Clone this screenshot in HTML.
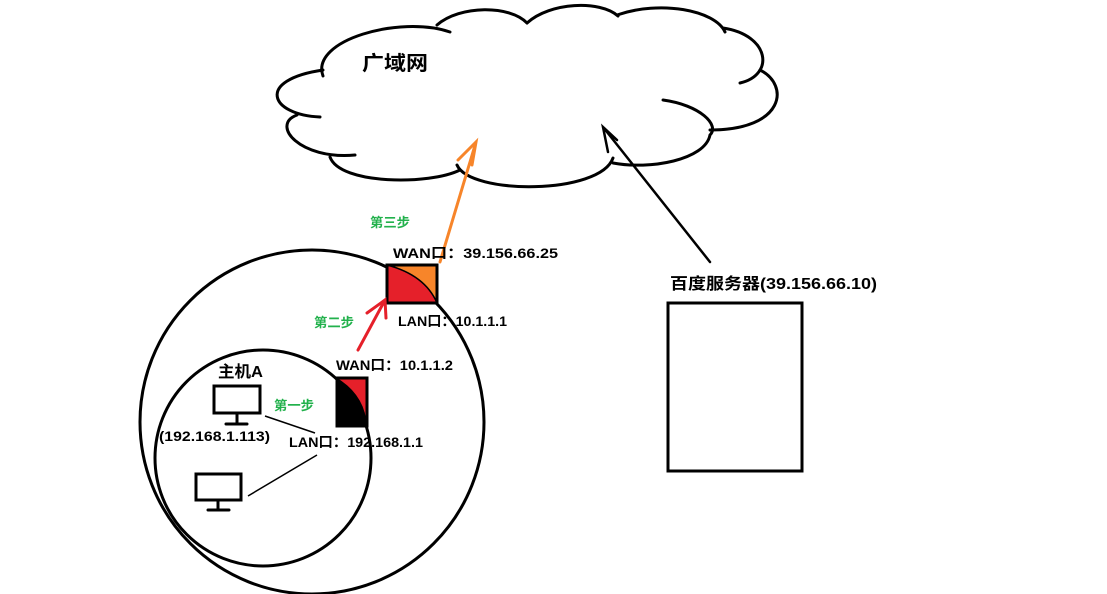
<!DOCTYPE html>
<html><head><meta charset="utf-8"><style>
html,body{margin:0;padding:0;background:#fff;}
svg{display:block;}
text{font-family:"Liberation Sans","Noto Sans CJK SC",sans-serif;font-weight:bold;}
</style></head><body>
<svg width="1107" height="594" viewBox="0 0 1107 594" xmlns="http://www.w3.org/2000/svg">
<g fill="none" stroke="#000" stroke-width="3" stroke-linecap="round">
<path d="M323,76 C310,40 400,15 450,32"/>
<path d="M437,25 C460,5 510,5 527,23"/>
<path d="M527,23 C550,2 600,0 618,16"/>
<path d="M617,15 C660,0 715,10 725,32"/>
<path d="M723,28 C770,35 775,75 740,83"/>
<path d="M760,70 C790,85 785,130 710,130"/>
<path d="M663,100 C700,105 720,125 710,135 C705,160 650,170 613,163"/>
<path d="M613,158 C600,195 470,195 457,165"/>
<path d="M460,170 C430,185 340,185 330,157"/>
<path d="M355,155 C300,160 270,125 297,115"/>
<path d="M320,117 C270,115 255,80 323,70"/>
<circle cx="312" cy="422" r="172"/>
<circle cx="263" cy="458" r="108"/>
<rect x="668" y="303" width="134" height="168"/>
<rect x="214" y="386" width="46" height="27"/>
<line x1="237" y1="413" x2="237" y2="424"/>
<line x1="226" y1="424" x2="247" y2="424"/>
<rect x="196" y="474" width="45" height="26"/>
<line x1="218" y1="500" x2="218" y2="510"/>
<line x1="208" y1="510" x2="229" y2="510"/>
</g>
<g stroke="#000" stroke-width="1.5">
<line x1="265" y1="416" x2="315" y2="433"/>
<line x1="317" y1="455" x2="248" y2="496"/>
</g>
<rect x="387" y="265" width="50" height="38" fill="#f7852a" stroke="none"/>
<path d="M387,265 Q425,275 437,303 L387,303 Z" fill="#e5202a"/>
<path d="M387,265 Q425,275 437,303" fill="none" stroke="#000" stroke-width="1.5"/>
<rect x="387" y="265" width="50" height="38" fill="none" stroke="#000" stroke-width="3"/>
<rect x="337" y="378" width="30" height="48" fill="#e5202a"/>
<path d="M337,378 Q365,395 367,426 L337,426 Z" fill="#000"/>
<rect x="337" y="378" width="30" height="48" fill="none" stroke="#000" stroke-width="3"/>
<g fill="none" stroke-linecap="round" stroke-width="3">
<path d="M358,350 L385,300 M367,313 L385,300 L386,318" stroke="#e5202a"/>
<path d="M440,262 L476,142 M458,160 L476,142 L472,165" stroke="#f7852a"/>
<path d="M710,262 L603,127 M617,140 L603,127 L608,152" stroke="#000" stroke-width="2.5"/>
</g>
<text x="362" y="70" font-size="20" textLength="66" lengthAdjust="spacingAndGlyphs">广域网</text>
<text x="370" y="227" font-size="13" fill="#22b14c" textLength="40" lengthAdjust="spacingAndGlyphs">第三步</text>
<text x="314" y="327" font-size="13" fill="#22b14c" textLength="40" lengthAdjust="spacingAndGlyphs">第二步</text>
<text x="274" y="410" font-size="13" fill="#22b14c" textLength="40" lengthAdjust="spacingAndGlyphs">第一步</text>
<text x="393" y="258" font-size="14" textLength="165" lengthAdjust="spacingAndGlyphs">WAN口：39.156.66.25</text>
<text x="398" y="326" font-size="14" textLength="109" lengthAdjust="spacingAndGlyphs">LAN口：10.1.1.1</text>
<text x="336" y="370" font-size="14" textLength="117" lengthAdjust="spacingAndGlyphs">WAN口：10.1.1.2</text>
<text x="289" y="447" font-size="14" textLength="134" lengthAdjust="spacingAndGlyphs">LAN口：192.168.1.1</text>
<text x="218" y="377" font-size="16" textLength="45" lengthAdjust="spacingAndGlyphs">主机A</text>
<text x="159" y="441" font-size="14" textLength="111" lengthAdjust="spacingAndGlyphs">(192.168.1.113)</text>
<text x="670" y="289" font-size="16" textLength="207" lengthAdjust="spacingAndGlyphs">百度服务器(39.156.66.10)</text>
</svg>
</body></html>
